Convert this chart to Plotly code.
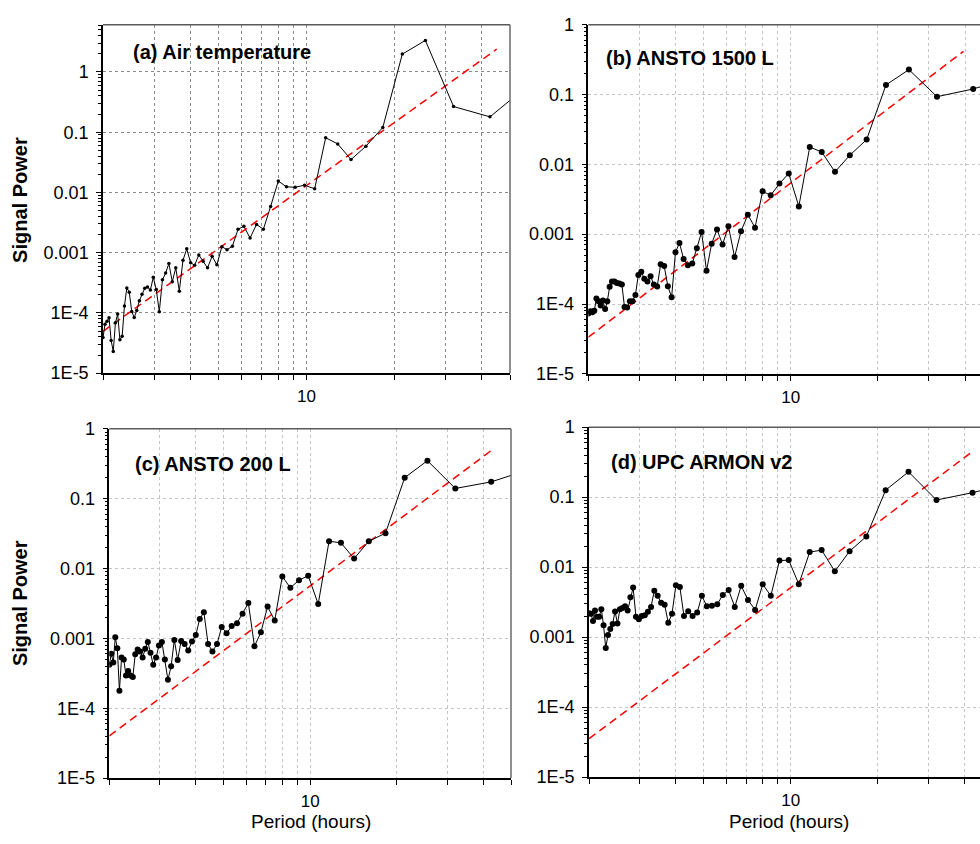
import plotly.graph_objects as go

# ---------------- data ----------------
periods = [
    2.0, 2.032, 2.065, 2.098, 2.133, 2.169, 2.207, 2.246, 2.286, 2.327,
    2.370, 2.415, 2.462, 2.510, 2.560, 2.612, 2.667, 2.723, 2.783, 2.844,
    2.909, 2.977, 3.048, 3.122, 3.200, 3.282, 3.368, 3.459, 3.556, 3.657,
    3.765, 3.879, 4.000, 4.129, 4.267, 4.414, 4.571, 4.741, 4.923, 5.120,
    5.333, 5.565, 5.818, 6.095, 6.400, 6.737, 7.111, 7.529, 8.000, 8.533,
    9.143, 9.846, 10.667, 11.636, 12.800, 14.222, 16.000, 18.286, 21.333, 25.600,
    32.0, 42.667, 64.0,
]

power_air = [
    3.9e-5, 6.5e-5, 7.3e-5, 8.3e-5, 3.5e-5, 2.3e-5, 6.9e-5, 9.6e-5, 3.6e-5, 4.1e-5,
    1.31e-4, 2.6e-4, 2.2e-4, 1.06e-4, 8.4e-5, 1.1e-4, 1.6e-4, 2.05e-4, 2.57e-4, 2.7e-4,
    2.4e-4, 3.9e-4, 2.45e-4, 1.05e-4, 3.55e-4, 4.6e-4, 6.6e-4, 3.3e-4, 5.6e-4, 2.3e-4,
    7.5e-4, 1.16e-3, 6.8e-4, 6.2e-4, 9.2e-4, 7.2e-4, 5.6e-4, 8.7e-4, 6.3e-4, 1.26e-3,
    1.12e-3, 1.28e-3, 2.45e-3, 2.75e-3, 1.75e-3, 2.95e-3, 2.45e-3, 5.86e-3, 1.55e-2, 1.24e-2,
    1.22e-2, 1.32e-2, 1.15e-2, 8.1e-2, 6.4e-2, 3.52e-2, 5.86e-2, 0.12, 1.98, 3.34,
    0.267, 0.18, 0.9,
]

power_1500 = [
    7.3e-5, 7.9e-5, 7.6e-5, 8.0e-5, 1.2e-4, 1.1e-4, 9.5e-5, 1.12e-4, 8.5e-5, 1.1e-4,
    1.77e-4, 2.1e-4, 2.1e-4, 2.0e-4, 1.97e-4, 1.9e-4, 9.1e-5, 8.9e-5, 1.1e-4, 1.1e-4,
    1.35e-4, 2.6e-4, 2.9e-4, 2.3e-4, 2.1e-4, 2.5e-4, 1.9e-4, 1.78e-4, 3.7e-4, 3.5e-4,
    1.8e-4, 1.25e-4, 5.5e-4, 7.5e-4, 4.4e-4, 3.6e-4, 3.8e-4, 6.3e-4, 1.07e-3, 3.0e-4,
    7.3e-4, 1.17e-3, 7.1e-4, 1.3e-3, 4.7e-4, 1.1e-3, 1.9e-3, 1.24e-3, 4.1e-3, 3.6e-3,
    5.3e-3, 7.4e-3, 2.5e-3, 0.0177, 0.015, 0.0078, 0.0135, 0.0226, 0.137, 0.227,
    0.093, 0.12, 0.2,
]

power_200 = [
    4.2e-4, 6.0e-4, 4.5e-4, 1.04e-3, 7.2e-4, 1.78e-4, 5.3e-4, 5.0e-4, 2.95e-4, 3.4e-4,
    2.95e-4, 2.8e-4, 5.9e-4, 6.9e-4, 6.5e-4, 5.3e-4, 7.1e-4, 8.9e-4, 6.2e-4, 4.2e-4,
    5.3e-4, 7.9e-4, 8.9e-4, 5.0e-4, 2.55e-4, 4.0e-4, 9.5e-4, 4.9e-4, 9.2e-4, 8.3e-4,
    6.7e-4, 9.0e-4, 1.12e-3, 1.9e-3, 2.37e-3, 8.3e-4, 6.5e-4, 8.3e-4, 1.46e-3, 1.18e-3,
    1.5e-3, 1.65e-3, 2.25e-3, 3.2e-3, 7.7e-4, 1.22e-3, 2.85e-3, 1.8e-3, 7.7e-3, 5.3e-3,
    6.8e-3, 7.9e-3, 3.1e-3, 0.0246, 0.0233, 0.0139, 0.0246, 0.032, 0.2, 0.35,
    0.14, 0.174, 0.3,
]

power_armon = [
    2.2e-3, 2.16e-3, 1.7e-3, 2.4e-3, 1.95e-3, 1.95e-3, 2.5e-3, 1.48e-3, 7.0e-4, 1.07e-3,
    1.31e-3, 1.54e-3, 2.33e-3, 1.57e-3, 2.5e-3, 2.6e-3, 2.75e-3, 2.4e-3, 3.7e-3, 5.1e-3,
    1.95e-3, 1.8e-3, 2.0e-3, 2.05e-3, 2.3e-3, 2.7e-3, 4.6e-3, 3.9e-3, 3.1e-3, 2.9e-3,
    1.6e-3, 2.16e-3, 5.5e-3, 5.2e-3, 2.0e-3, 2.35e-3, 2.0e-3, 2.25e-3, 3.9e-3, 2.75e-3,
    2.8e-3, 2.95e-3, 4.0e-3, 4.7e-3, 2.7e-3, 5.4e-3, 3.4e-3, 2.45e-3, 5.7e-3, 3.9e-3,
    0.0124, 0.0126, 5.7e-3, 0.0164, 0.0175, 8.7e-3, 0.0169, 0.0274, 0.126, 0.23,
    0.091, 0.116, 0.176,
]

# fitted power-law reference lines (end points)
fit_air_x = [2.0, 45.0]
fit_air_y = [4.94e-5, 2.39]
fit_1500_x = [2.0, 39.5]
fit_1500_y = [3.35e-5, 0.415]
fit_200_x = [2.0, 42.7]
fit_200_y = [4.0e-5, 0.49]
fit_armon_x = [2.0, 42.4]
fit_armon_y = [3.53e-5, 0.44]

panel_titles = ["(a) Air temperature", "(b) ANSTO 1500 L", "(c) ANSTO 200 L", "(d) UPC ARMON v2"]

x_grid_vals = [2, 3, 4, 5, 6, 7, 8, 9, 10, 20, 30, 40, 50]
x_grid_text = ["", "", "", "", "", "", "", "", "10", "", "", "", ""]
y_tick_vals = [1e-5, 1e-4, 1e-3, 1e-2, 1e-1, 1]
y_tick_text = ["1E-5", "1E-4", "0.001", "0.01", "0.1", "1"]
y_minor_vals = [m * d for d in [1e-5, 1e-4, 1e-3, 1e-2, 1e-1, 1] for m in range(2, 10)]

# ---------------- figure ----------------
W, H = 980, 844
FONT = "Liberation Sans, Arial, sans-serif"


def px_x(p):
    return p / W


def px_y(p):
    return 1 - p / H


# pixel boxes: (left, right, top, bottom)
boxes = [
    (103, 510, 15, 372),
    (588.3, 980, 15, 372.7),
    (109.3, 511, 429, 786.7),
    (589, 980, 427.3, 785.7),
]
x_ranges = [
    [0.30103, 1.69897],
    [0.30103, 1.6537],
    [0.30103, 1.69897],
    [0.30103, 1.656],
]
y_ranges = [[-5, 0.786], [-5, 0], [-5, 0], [-5, 0]]
series = [power_air, power_1500, power_200, power_armon]
fits = [(fit_air_x, fit_air_y), (fit_1500_x, fit_1500_y),
        (fit_200_x, fit_200_y), (fit_armon_x, fit_armon_y)]
marker_sizes = [3.5, 6, 6, 6]
grid_colors = ["#8a8a8a", "#c4c4c4", "#c4c4c4", "#c4c4c4"]

fig = go.Figure()
layout = dict(
    width=W, height=H, margin=dict(l=0, r=0, t=0, b=0),
    paper_bgcolor="white", plot_bgcolor="white", showlegend=False,
    font=dict(family=FONT, color="black"),
)
annotations = []
shapes = []

for i in range(4):
    n = "" if i == 0 else str(i + 1)
    xa, ya = "x" + n, "y" + n
    l, r, t, b = boxes[i]
    layout["xaxis" + n] = dict(
        type="log", domain=[px_x(l), min(px_x(r), 1.0)], range=x_ranges[i], anchor=ya,
        tickvals=x_grid_vals, ticktext=x_grid_text, ticks="outside", ticklen=5,
        tickwidth=1, tickcolor="black", showline=True, linecolor="black", linewidth=1.5,
        showgrid=True, gridcolor=grid_colors[i], griddash="dot", gridwidth=1,
        tickfont=dict(size=17, color="black", family=FONT), zeroline=False,
        ticklabelstandoff=2,
    )
    layout["yaxis" + n] = dict(
        type="log", domain=[px_y(b), px_y(t)], range=y_ranges[i], anchor=xa,
        tickvals=y_tick_vals, ticktext=y_tick_text, ticks="outside", ticklen=5,
        tickwidth=1, tickcolor="black", showline=True, linecolor="black", linewidth=1.5,
        showgrid=True, gridcolor=grid_colors[i], griddash="dot", gridwidth=1,
        tickfont=dict(size=18, color="black", family=FONT), zeroline=False,
        ticklabelstandoff=4,
        minor=dict(tickvals=y_minor_vals, ticks="outside", ticklen=3, tickwidth=1,
                   tickcolor="black", showgrid=False),
    )
    # frame: top line (and right line for left-hand panels)
    shapes.append(dict(type="line", xref=xa + " domain", yref=ya + " domain",
                       x0=0, x1=1, y0=1, y1=1, line=dict(color="#5a5a5a", width=1.5)))
    if i in (0, 2):
        shapes.append(dict(type="line", xref=xa + " domain", yref=ya + " domain",
                           x0=1, x1=1, y0=0, y1=1, line=dict(color="#6a6a6a", width=1.5)))

    fx, fy = fits[i]
    fig.add_trace(go.Scatter(
        x=fx, y=fy, mode="lines", xaxis=xa, yaxis=ya,
        line=dict(color="#ff0000", width=1.5, dash="8px,5px"), hoverinfo="skip",
    ))
    fig.add_trace(go.Scatter(
        x=periods, y=series[i], mode="lines+markers", xaxis=xa, yaxis=ya,
        line=dict(color="black", width=1),
        marker=dict(color="black", size=marker_sizes[i]),
    ))

# panel titles
title_pos = [(131, 43), (604.3, 49), (132.7, 465), (609.3, 462.7)]
for (tx, ty), txt in zip(title_pos, panel_titles):
    annotations.append(dict(
        text="<b>" + txt + "</b>", x=px_x(tx), y=px_y(ty), xref="paper", yref="paper",
        xanchor="left", yanchor="middle", showarrow=False,
        font=dict(size=20, color="black", family=FONT),
    ))

# y axis titles
for cy in (194.5, 607.5):
    annotations.append(dict(
        text="<b>Signal Power</b>", x=px_x(20), y=px_y(cy), xref="paper", yref="paper",
        xanchor="center", yanchor="middle", showarrow=False, textangle=-90,
        font=dict(size=20, color="black", family=FONT),
    ))

# x axis titles
for cx in (310.5, 789):
    annotations.append(dict(
        text="Period (hours)", x=px_x(cx), y=px_y(831.5), xref="paper", yref="paper",
        xanchor="center", yanchor="middle", showarrow=False,
        font=dict(size=19, color="black", family=FONT),
    ))

layout["annotations"] = annotations
layout["shapes"] = shapes
fig.update_layout(**layout)

fig.write_html("out.html")
